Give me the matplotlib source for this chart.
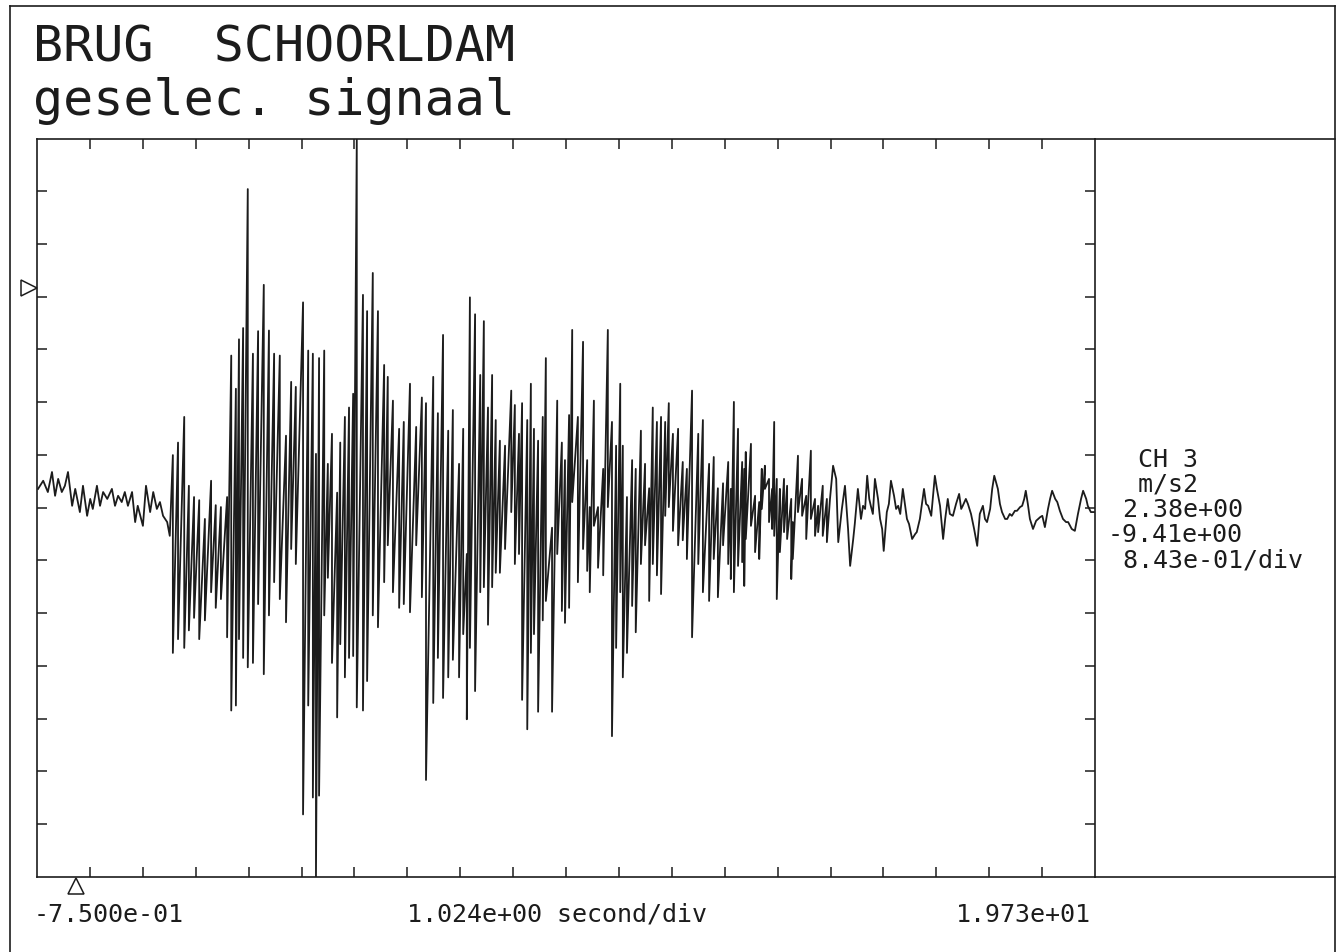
import numpy as np
import matplotlib
matplotlib.use('Agg')
import matplotlib.pyplot as plt
from matplotlib.lines import Line2D
from matplotlib.transforms import blended_transform_factory

# axis settings
t_start = -0.75
t_div = 1.024
n_tdiv = 20
acc_top = 2.38
acc_bot = -9.41
acc_div = 0.843
n_adiv = 14

# quiet part before the event (s, m/s2)
quiet_t = [-0.73, -0.63, -0.54, -0.46, -0.40, -0.34, -0.27, -0.21, -0.15, -0.07,
           -0.01, 0.08, 0.14, 0.22, 0.28, 0.33, 0.41, 0.47, 0.53, 0.61,
           0.70, 0.76, 0.82, 0.89, 0.95, 1.01, 1.09, 1.15, 1.20, 1.30,
           1.36, 1.44, 1.50, 1.57, 1.63, 1.69, 1.77, 1.82]
quiet_v = [-3.21, -3.08, -3.26, -2.94, -3.32, -3.05, -3.26, -3.16, -2.94, -3.48,
           -3.21, -3.58, -3.16, -3.64, -3.37, -3.53, -3.16, -3.48, -3.26, -3.37,
           -3.21, -3.48, -3.32, -3.42, -3.26, -3.48, -3.26, -3.74, -3.48, -3.80,
           -3.16, -3.58, -3.26, -3.53, -3.42, -3.64, -3.74, -3.96]

# strong part: time of each swing with its upper and lower peak
burst_t = [1.88, 1.98, 2.10, 2.19, 2.29, 2.39, 2.50, 2.62, 2.71, 2.81,
           2.93, 3.01, 3.10, 3.16, 3.24, 3.33, 3.43, 3.53, 3.64, 3.74,
           3.84, 3.95, 4.07, 4.17, 4.26, 4.40, 4.50, 4.59, 4.65, 4.71,
           4.81, 4.88, 4.96, 5.06, 5.12, 5.21, 5.29, 5.37, 5.44, 5.56,
           5.64, 5.75, 5.85, 5.97, 6.04, 6.14, 6.26, 6.35, 6.47, 6.59,
           6.70, 6.78, 6.92, 7.01, 7.11, 7.21, 7.30, 7.42, 7.50, 7.57,
           7.63, 7.73, 7.83, 7.90, 7.98, 8.06, 8.13, 8.21, 8.31, 8.43,
           8.50, 8.58, 8.64, 8.74, 8.81, 8.87, 8.95, 9.04, 9.10, 9.22,
           9.32, 9.41, 9.47, 9.55, 9.61, 9.72, 9.82, 9.90, 9.95, 10.03,
           10.11, 10.21, 10.30, 10.38, 10.46, 10.54, 10.59, 10.67, 10.77, 10.84,
           10.94, 11.02, 11.10, 11.17, 11.25, 11.33, 11.41, 11.48, 11.56, 11.66,
           11.75, 11.83, 11.93, 12.05, 12.14, 12.26, 12.35, 12.43, 12.53, 12.63,
           12.68, 12.74, 12.82, 12.90, 12.94, 12.97, 13.07, 13.15, 13.23, 13.28,
           13.34, 13.42, 13.48, 13.52, 13.57, 13.63, 13.71, 13.77, 13.85, 13.88,
           13.98, 14.06, 14.14, 14.23, 14.31, 14.37, 14.46, 14.54]
burst_hi = [-2.67, -2.47, -2.06, -3.16, -3.34, -3.39, -3.69, -3.08, -3.47, -3.50,
            -3.34, -1.08, -1.61, -0.82, -0.64, 1.58, -1.05, -0.69, 0.05, -0.68,
            -1.05, -1.08, -2.36, -1.50, -1.58, -0.23, -1.00, -1.05, -2.65, -1.12,
            -1.00, -2.81, -2.33, -3.27, -2.47, -2.06, -1.91, -1.69, 2.38, -0.11,
            -0.37, 0.24, -0.37, -1.23, -1.42, -1.80, -2.25, -2.14, -1.53, -2.22,
            -1.75, -1.84, -1.42, -2.00, -0.75, -2.28, -1.95, -2.81, -2.25, -4.25,
            -0.15, -0.42, -1.39, -0.53, -1.91, -1.39, -2.11, -2.44, -2.52, -1.64,
            -1.87, -2.33, -1.84, -2.11, -1.53, -2.25, -2.44, -2.06, -1.12, -3.83,
            -1.80, -2.47, -2.75, -2.03, -0.67, -2.06, -0.86, -2.75, -3.50, -1.80,
            -3.50, -2.89, -0.67, -2.14, -2.52, -1.53, -2.52, -3.34, -2.75, -2.89,
            -2.28, -2.81, -3.20, -1.91, -2.14, -2.06, -2.14, -1.84, -2.33, -2.25,
            -2.78, -2.89, -1.64, -2.33, -2.11, -2.81, -2.70, -3.20, -3.12, -2.78,
            -3.21, -1.82, -2.25, -2.78, -2.89, -2.62, -2.49, -3.32, -3.42, -2.89,
            -2.84, -3.05, -3.21, -2.14, -3.05, -3.21, -3.05, -3.16, -3.37, -3.74,
            -2.68, -3.05, -3.32, -2.60, -3.37, -3.48, -3.16, -3.37]
burst_lo = [-5.83, -5.61, -5.75, -5.47, -5.27, -5.61, -5.31, -4.86, -5.11, -4.97,
            -5.58, -6.75, -6.67, -5.61, -5.91, -6.06, -5.99, -5.05, -6.17, -5.23,
            -4.70, -4.97, -5.34, -4.17, -4.41, -8.41, -6.67, -8.14, -9.41, -8.11,
            -5.23, -4.63, -5.99, -6.86, -5.69, -6.22, -5.91, -5.88, -6.70, -6.75,
            -6.28, -5.23, -5.42, -4.70, -4.11, -4.86, -5.11, -5.05, -5.18, -4.11,
            -4.94, -7.86, -6.63, -5.91, -6.55, -6.22, -5.94, -6.22, -5.53, -6.89,
            -5.75, -6.44, -4.86, -4.78, -5.38, -4.78, -4.55, -4.55, -4.17, -3.58,
            -4.41, -4.25, -6.58, -7.05, -5.83, -5.53, -6.77, -5.31, -5.00, -6.77,
            -4.25, -5.16, -5.35, -5.11, -3.42, -4.70, -4.17, -4.52, -4.86, -3.80,
            -4.47, -4.59, -3.50, -7.16, -5.75, -4.86, -6.22, -5.83, -5.08, -5.50,
            -4.41, -4.11, -5.00, -4.41, -4.59, -4.89, -3.64, -3.50, -3.88, -4.11,
            -4.03, -4.33, -5.58, -4.41, -4.86, -5.00, -4.33, -4.94, -4.11, -4.41,
            -4.65, -4.86, -4.44, -4.38, -4.76, -4.01, -3.80, -4.22, -4.33, -3.53,
            -3.21, -3.74, -3.85, -3.96, -4.97, -4.22, -3.90, -4.01, -4.65, -4.33,
            -3.58, -3.64, -4.01, -3.69, -3.96, -3.90, -3.96, -4.06]

# decaying tail
tail_t = [14.60, 14.66, 14.72, 14.76, 14.83, 14.89, 14.95, 14.99, 15.05, 15.08,
          15.14, 15.20, 15.24, 15.28, 15.32, 15.36, 15.39, 15.43, 15.47, 15.53,
          15.57, 15.61, 15.64, 15.70, 15.74, 15.78, 15.84, 15.88, 15.92, 15.96,
          16.01, 16.05, 16.09, 16.13, 16.19, 16.25, 16.28, 16.34, 16.38, 16.42,
          16.46, 16.50, 16.56, 16.59, 16.63, 16.67, 16.73, 16.79, 16.83, 16.88,
          16.92, 16.98, 17.04, 17.10, 17.14, 17.17, 17.23, 17.27, 17.33, 17.39,
          17.45, 17.50, 17.56, 17.60, 17.64, 17.70, 17.74, 17.78, 17.85, 17.89,
          17.93, 17.99, 18.03, 18.08, 18.12, 18.18, 18.22, 18.28, 18.32, 18.36,
          18.39, 18.43, 18.47, 18.53, 18.59, 18.63, 18.67, 18.71, 18.76, 18.82,
          18.86, 18.90, 18.96, 19.00, 19.05, 19.11, 19.17, 19.21, 19.28, 19.34,
          19.40, 19.46, 19.50, 19.56, 19.59, 19.65, 19.71]
tail_v = [-3.37, -2.84, -3.05, -4.06, -3.53, -3.16, -3.85, -4.44, -4.01, -3.77,
          -3.21, -3.69, -3.48, -3.53, -3.00, -3.37, -3.48, -3.61, -3.05, -3.37,
          -3.69, -3.85, -4.20, -3.58, -3.45, -3.08, -3.32, -3.53, -3.48, -3.61,
          -3.21, -3.45, -3.69, -3.77, -4.01, -3.93, -3.90, -3.69, -3.45, -3.21,
          -3.45, -3.48, -3.64, -3.37, -3.00, -3.21, -3.48, -4.01, -3.69, -3.37,
          -3.61, -3.64, -3.45, -3.29, -3.53, -3.48, -3.37, -3.45, -3.61, -3.85,
          -4.12, -3.61, -3.48, -3.69, -3.74, -3.53, -3.21, -3.00, -3.21, -3.45,
          -3.58, -3.69, -3.69, -3.61, -3.64, -3.56, -3.56, -3.50, -3.48, -3.37,
          -3.24, -3.45, -3.69, -3.85, -3.72, -3.69, -3.66, -3.64, -3.82, -3.53,
          -3.37, -3.24, -3.37, -3.42, -3.56, -3.69, -3.74, -3.74, -3.85, -3.88,
          -3.61, -3.37, -3.24, -3.37, -3.48, -3.58, -3.58]

# join everything into one trace
t = np.concatenate([quiet_t, np.repeat(burst_t, 2), tail_t])
v = np.concatenate([quiet_v, np.column_stack([burst_hi, burst_lo]).ravel(), tail_v])

t_end = t_start + n_tdiv * t_div

W, H = 1340, 953
ink = '#1c1c1c'
mono = 'DejaVu Sans Mono'


def fx(px):
    return px / W


def fy(py):
    return 1 - py / H


fig = plt.figure(figsize=(W / 100, H / 100), dpi=100)
fig.patch.set_facecolor('white')

ax = fig.add_axes([fx(37), fy(878), fx(1095) - fx(37), fy(140) - fy(878)])
ax.plot(t, v, color=ink, lw=1.3)
ax.set_xlim(t_start, t_end)
ax.set_ylim(acc_bot, acc_top)
ax.set_xticks([t_start + k * t_div for k in range(1, n_tdiv)])
ax.set_yticks([acc_bot + k * acc_div for k in range(1, n_adiv)])
ax.tick_params(direction='in', length=7, width=1.1, color=ink,
               top=True, right=True, labelbottom=False, labelleft=False)
for s in ax.spines.values():
    s.set_color(ink)
    s.set_linewidth(1.2)

# zero markers
tr_y = blended_transform_factory(ax.transAxes, ax.transData)
ax.plot([-0.0076], [0.0], transform=tr_y, marker='>', ms=11, mfc='white',
        mec=ink, mew=1.1, clip_on=False)
tr_x = blended_transform_factory(ax.transData, ax.transAxes)
ax.plot([0.0], [-0.012], transform=tr_x, marker='^', ms=11, mfc='white',
        mec=ink, mew=1.1, clip_on=False)

# outer frame and the right info panel
frame = [([10, 10], [7, 960]), ([10, 1335], [7, 7]), ([1335, 1335], [7, 960]),
         ([1095, 1335], [140, 140]), ([1095, 1335], [878, 878])]
for xs, ys in frame:
    fig.add_artist(Line2D([fx(x) for x in xs], [fy(y) for y in ys],
                          transform=fig.transFigure, color=ink, lw=1.2))

fig.text(fx(33), fy(62), 'BRUG  SCHOORLDAM', fontsize=36, family=mono,
         color=ink, va='baseline')
fig.text(fx(33), fy(115), 'geselec. signaal', fontsize=36, family=mono,
         color=ink, va='baseline')

small = 18
fig.text(fx(34), fy(922), f'{t_start:.3e}', fontsize=small, family=mono,
         color=ink, va='baseline')
fig.text(fx(407), fy(922), f'{t_div:.3e} second/div', fontsize=small,
         family=mono, color=ink, va='baseline')
fig.text(fx(1091), fy(922), f'{t_end:.3e}', fontsize=small, family=mono,
         color=ink, va='baseline', ha='right')

panel = ['  CH 3', '  m/s2', f' {acc_top:.2e}', f'{acc_bot:.2e}',
         f' {acc_div:.2e}/div']
for i, line in enumerate(panel):
    fig.text(fx(1108), fy(467 + 25 * i), line, fontsize=small, family=mono,
             color=ink, va='baseline')

fig.savefig('out.png', dpi=100, facecolor='white')
